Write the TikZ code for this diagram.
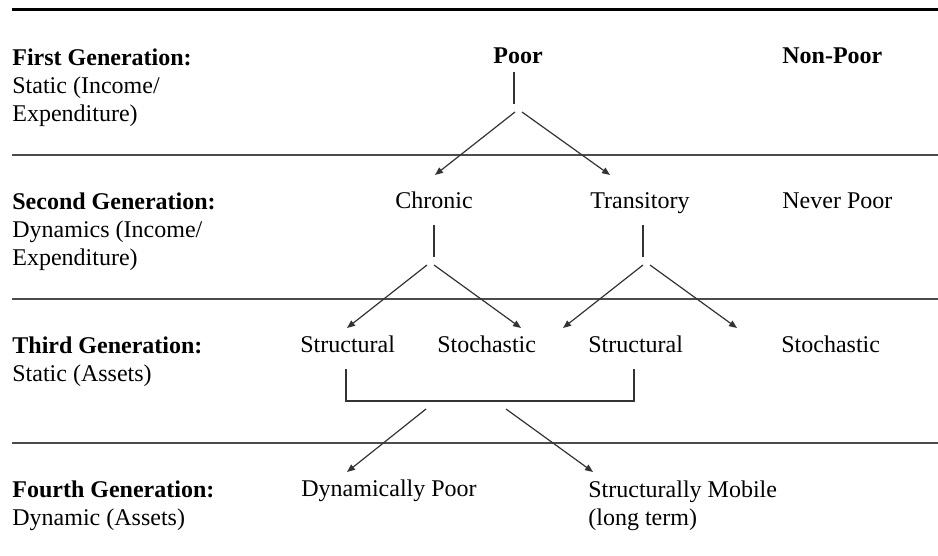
\documentclass[tikz,border=0pt]{standalone}
\usepackage{fontspec}
\setmainfont{Liberation Serif}
\usetikzlibrary{arrows.meta}

\begin{document}
\begin{tikzpicture}[x=0.5pt, y=-0.5pt, >={Triangle[length=4pt,width=3.2pt]},
  every node/.style={inner sep=0pt, font=\fontsize{12}{14}\selectfont},
  gen/.style={anchor=north west, align=left},
  item/.style={anchor=base west},
  sep/.style={draw=black!70, line width=0.6pt},
  link/.style={draw=black!80, line width=0.6pt}]

\useasboundingbox (0,0) rectangle (938,556);

% rules
\draw [line width=1.5pt] (12,10) -- (938,10);
\foreach \y in {155,299,443}
  \draw [sep] (12,\y) -- (938,\y);

% generations
\node [gen] (gen1) at (12,48)  {\textbf{First Generation:}\\Static (Income/\\Expenditure)};
\node [gen] (gen2) at (12,192) {\textbf{Second Generation:}\\Dynamics (Income/\\Expenditure)};
\node [gen] (gen3) at (12,336) {\textbf{Third Generation:}\\Static (Assets)};
\node [gen] (gen4) at (12,480) {\textbf{Fourth Generation:}\\Dynamic (Assets)};

% categories
\node [item, font=\fontsize{12}{14}\selectfont\bfseries] (poor) at (493,64) {Poor};
\node [item, font=\fontsize{12}{14}\selectfont\bfseries] (nonpoor) at (782,64) {Non-Poor};

\node [item] (chronic) at (395,208) {Chronic};
\node [item] (transitory) at (590,208) {Transitory};
\node [item] (neverpoor) at (782,208) {Never Poor};

\node [item] (struct-a) at (300,352) {Structural};
\node [item] (stoch-a) at (437,352) {Stochastic};
\node [item] (struct-b) at (588,352) {Structural};
\node [item] (stoch-b) at (781,352) {Stochastic};

\node [item] (dynpoor) at (301,496) {Dynamically Poor};
\node [gen] (mobile) at (588,480) {Structurally Mobile\\(long term)};

% stems and forks
\foreach \n/\x/\y in {poor-a/514/72, poor-b/514/104,
                      chronic-a/434/225, chronic-b/434/257,
                      transitory-a/643/225, transitory-b/643/257,
                      struct-a-a/346/369, struct-b-a/634/369, join-l/346/401, join-r/634/401}
  \coordinate (\n) at (\x,\y);

\draw [link] (poor-a) -- (poor-b);
\draw [link] (chronic-a) -- (chronic-b);
\draw [link] (transitory-a) -- (transitory-b);
\draw [link] (struct-a-a) -- (join-l) -- (join-r) -- (struct-b-a);

% arrows
\foreach \n/\x/\y in {o1/515/112, t1/435/175, o2/522/112, t2/610/175,
                      o3/427/265, t3/347/328, o4/434/265, t4/521/328,
                      o5/643/265, t5/563/328, o6/650/265, t6/737/328,
                      o7/426/409, t7/347/472, o8/506/409, t8/593/472}
  \coordinate (\n) at (\x,\y);

\foreach \i in {1,...,8}
  \draw [link, ->] (o\i) -- (t\i);

\end{tikzpicture}
\end{document}
